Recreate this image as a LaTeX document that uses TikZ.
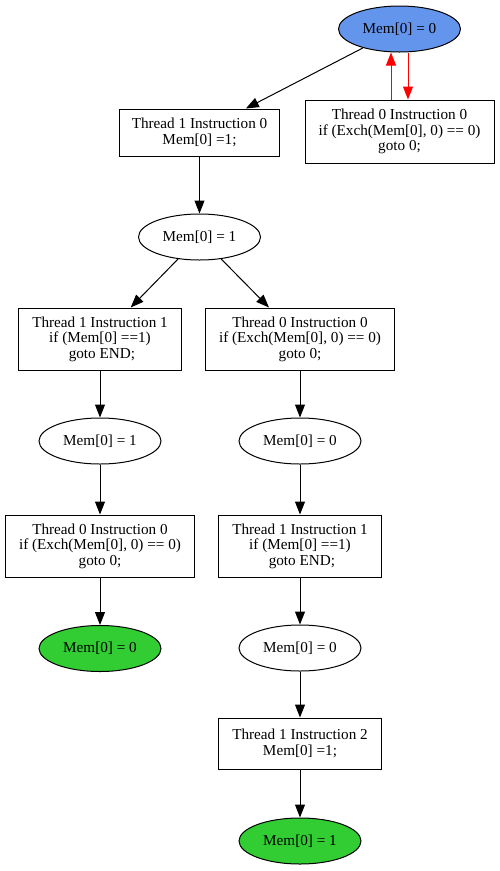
\documentclass[tikz,border=0pt]{standalone}
\usepackage{fontspec}
\setmainfont{Liberation Serif}
\usetikzlibrary{shapes.geometric,arrows.meta}
\definecolor{stblue}{HTML}{6495ED}
\definecolor{stgreen}{HTML}{32CD32}
\tikzset{
  every node/.style={font=\fontsize{15.2pt}{15.5pt}\selectfont, align=center, inner sep=0pt},
  state/.style={ellipse, draw, line width=1pt, minimum width=122pt, minimum height=46pt},
  instr/.style={rectangle, draw, line width=1pt, minimum height=62pt},
  edge/.style={line width=1pt, -{Triangle[length=13pt,width=10pt]}},
  redge/.style={edge, red},
}
\begin{document}
\begin{tikzpicture}[x=1pt,y=-1pt]
\useasboundingbox (0,0) rectangle (500,871);
\node[state, fill=stblue] (A) at (399.5,29) {Mem[0] = 0};
\node[instr, minimum width=160pt, minimum height=47pt] (B) at (199.5,132.5) {Thread 1 Instruction 0\\Mem[0] =1;};
\node[instr, minimum width=189pt, minimum height=63pt] (C) at (399.5,131.5) {Thread 0 Instruction 0\\if (Exch(Mem[0], 0) == 0)\\goto 0;};
\node[state] (D) at (199.5,237) {Mem[0] = 1};
\node[instr, minimum width=163pt] (E) at (100,339) {Thread 1 Instruction 1\\if (Mem[0] ==1)\\\ goto END;};
\node[instr, minimum width=189pt] (F) at (300,339) {Thread 0 Instruction 0\\if (Exch(Mem[0], 0) == 0)\\goto 0;};
\node[state] (G) at (100,441) {Mem[0] = 1};
\node[state] (H) at (300,441) {Mem[0] = 0};
\node[instr, minimum width=189pt] (I) at (100,546) {Thread 0 Instruction 0\\if (Exch(Mem[0], 0) == 0)\\goto 0;};
\node[instr, minimum width=163pt] (J) at (300,546) {Thread 1 Instruction 1\\if (Mem[0] ==1)\\\ goto END;};
\node[state, fill=stgreen] (K) at (100,648.5) {Mem[0] = 0};
\node[state] (L) at (300,648) {Mem[0] = 0};
\node[instr, minimum width=163pt, minimum height=51pt] (M) at (300,743.5) {Thread 1 Instruction 2\\Mem[0] =1;};
\node[state, fill=stgreen] (N) at (300,841) {Mem[0] = 1};

\draw[edge] (A) -- (B);
\draw[redge] ([xshift=-8.5pt]C.north) -- ([xshift=-8.5pt]A.south);
\draw[redge] ([xshift=8.5pt]A.south) -- ([xshift=8.5pt]C.north);
\draw[edge] (B) -- (D);
\draw[edge] (D) -- (E);
\draw[edge] (D) -- (F);
\draw[edge] (E) -- (G);
\draw[edge] (F) -- (H);
\draw[edge] (G) -- (I);
\draw[edge] (H) -- (J);
\draw[edge] (I) -- (K);
\draw[edge] (J) -- (L);
\draw[edge] (L) -- (M);
\draw[edge] (M) -- (N);
\end{tikzpicture}
\end{document}
